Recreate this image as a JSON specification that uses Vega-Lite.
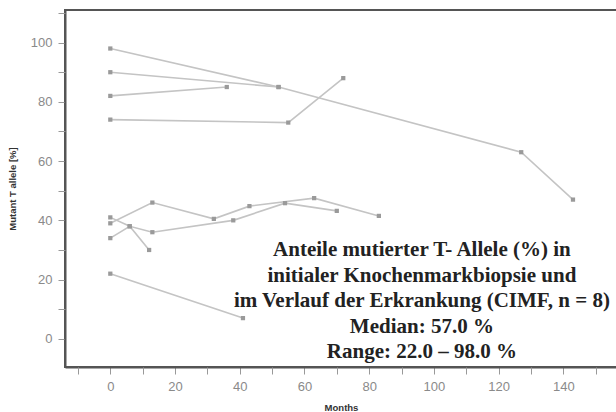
{
  "$schema": "https://vega.github.io/schema/vega-lite/v6.json",
  "width": 552,
  "height": 357,
  "autosize": "none",
  "padding": {"left": 65, "top": 10, "right": 0, "bottom": 45},
  "background": "white",
  "config": {"view": {"stroke": "#555", "strokeWidth": 2}},
  "resolve": {"axis": {"x": "independent", "y": "independent"}},
  "layer": [
    {
      "data": {"name": "series"},
      "mark": {"type": "line", "color": "#c4c4c4", "strokeWidth": 1.6},
      "encoding": {
        "x": {
          "field": "month", "type": "quantitative",
          "scale": {"domain": [-14, 156.6], "nice": false, "zero": false},
          "axis": {
            "title": "Months",
            "values": [0, 20, 40, 60, 80, 100, 120, 140],
            "grid": false,
            "domainColor": "#555", "domainWidth": 2,
            "tickColor": "#999", "tickSize": 7,
            "labelColor": "#8a8a8a", "labelFontSize": 13, "labelFont": "Liberation Sans", "labelPadding": 6,
            "titleFont": "Liberation Sans", "titleFontWeight": "bold", "titleFontSize": 9.5, "titleColor": "#333", "titlePadding": 9
          }
        },
        "y": {
          "field": "value", "type": "quantitative",
          "scale": {"domain": [-9.5, 111], "nice": false, "zero": false},
          "axis": {
            "title": "Mutant T allele [%]",
            "values": [0, 20, 40, 60, 80, 100],
            "grid": false,
            "domainColor": "#555", "domainWidth": 2,
            "tickColor": "#999", "tickSize": 7,
            "labelColor": "#8a8a8a", "labelFontSize": 13, "labelFont": "Liberation Sans", "labelPadding": 6,
            "titleFont": "Liberation Sans", "titleFontWeight": "bold", "titleFontSize": 9.5, "titleColor": "#333", "titlePadding": 13
          }
        },
        "detail": {"field": "id"},
        "order": {"field": "month"}
      }
    },
    {
      "data": {"name": "series"},
      "mark": {"type": "point", "shape": "square", "filled": true, "color": "#9a9a9a", "size": 18, "opacity": 1},
      "encoding": {
        "x": {
          "field": "month", "type": "quantitative",
          "axis": {"orient": "bottom", "values": [-10, 10, 30, 50, 70, 90, 110, 130, 150], "labels": false, "title": null, "domain": false, "grid": false, "tickColor": "#999", "tickSize": 7}
        },
        "y": {
          "field": "value", "type": "quantitative",
          "axis": {"orient": "left", "values": [10, 30, 50, 70, 90, 110], "labels": false, "title": null, "domain": false, "grid": false, "tickColor": "#999", "tickSize": 7}
        }
      }
    },
    {
      "data": {"name": "note"},
      "mark": {
        "type": "text",
        "font": "Liberation Serif", "fontWeight": "bold", "fontSize": 21,
        "lineHeight": 25.5, "align": "center", "baseline": "top", "color": "#222"
      },
      "encoding": {
        "x": {"datum": 96.3, "type": "quantitative", "axis": null},
        "y": {"datum": 33.6, "type": "quantitative", "axis": null},
        "text": {"field": "lines"}
      }
    }
  ],
  "datasets": {
    "series": [
      {"id": "A", "month": 0, "value": 39},
      {"id": "A", "month": 13, "value": 46},
      {"id": "A", "month": 32, "value": 40.5},
      {"id": "A", "month": 43, "value": 44.8},
      {"id": "A", "month": 63, "value": 47.5},
      {"id": "A", "month": 83, "value": 41.5},
      {"id": "B", "month": 0, "value": 34},
      {"id": "B", "month": 6, "value": 38},
      {"id": "B", "month": 13, "value": 36},
      {"id": "B", "month": 38, "value": 40},
      {"id": "B", "month": 54, "value": 45.8},
      {"id": "B", "month": 70, "value": 43.2},
      {"id": "C", "month": 0, "value": 41},
      {"id": "C", "month": 6, "value": 38},
      {"id": "C", "month": 12, "value": 30},
      {"id": "D", "month": 0, "value": 22},
      {"id": "D", "month": 41, "value": 7},
      {"id": "E", "month": 0, "value": 74},
      {"id": "E", "month": 55, "value": 73},
      {"id": "E", "month": 72, "value": 88},
      {"id": "F", "month": 0, "value": 82},
      {"id": "F", "month": 36, "value": 85},
      {"id": "G", "month": 0, "value": 90},
      {"id": "G", "month": 52, "value": 85},
      {"id": "H", "month": 0, "value": 98},
      {"id": "H", "month": 52, "value": 85},
      {"id": "H", "month": 127, "value": 63},
      {"id": "H", "month": 143, "value": 47}
    ],
    "note": [
      {"lines": ["Anteile mutierter T- Allele (%) in", "initialer Knochenmarkbiopsie und", "im Verlauf der Erkrankung (CIMF, n = 8)", "Median: 57.0 %", "Range: 22.0 – 98.0 %"]}
    ]
  }
}
